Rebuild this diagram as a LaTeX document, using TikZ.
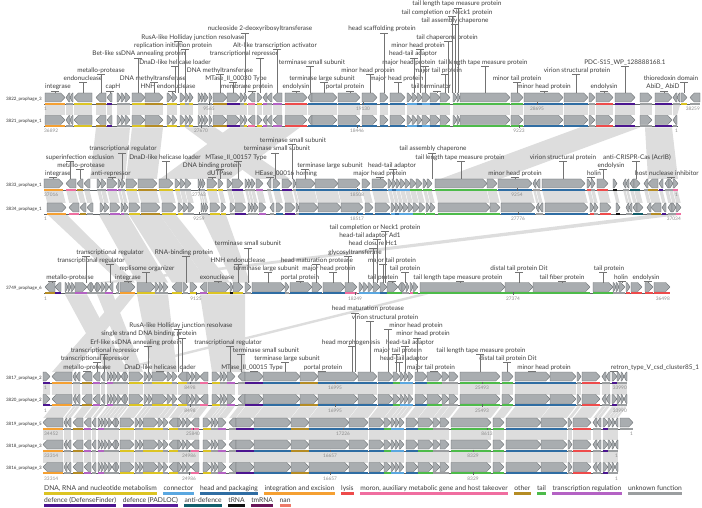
\documentclass[tikz,border=0pt]{standalone}
\usepackage{fontspec}
\setmainfont{Lato}
\usetikzlibrary{calc}
\definecolor{cY}{HTML}{DCC423}
\definecolor{cC}{HTML}{5AA7E0}
\definecolor{cH}{HTML}{2F6DA3}
\definecolor{cI}{HTML}{F5A032}
\definecolor{cL}{HTML}{EE4B4B}
\definecolor{cM}{HTML}{F06EA0}
\definecolor{cO}{HTML}{B58C24}
\definecolor{cT}{HTML}{4DBB4A}
\definecolor{cR}{HTML}{B462C4}
\definecolor{cU}{HTML}{9B9EA0}
\definecolor{cD}{HTML}{4B1590}
\definecolor{cP}{HTML}{5A1E9A}
\definecolor{cA}{HTML}{115E6B}
\definecolor{cN}{HTML}{111111}
\definecolor{cK}{HTML}{6A1558}
\definecolor{cZ}{HTML}{EE7A6A}
\definecolor{genefill}{HTML}{A9ADB0}
\definecolor{geneline}{HTML}{5E6265}
\definecolor{bandgray}{HTML}{DDDDDD}
\definecolor{labtext}{HTML}{3C3C3C}
\definecolor{numtext}{HTML}{8C8C8C}
\tikzset{
 gene/.style={fill=genefill,draw=geneline,line width=0.3pt,line join=round},
 band/.style={fill=bandgray},
 axisln/.style={draw=geneline,line width=0.4pt},
 lbl/.style={anchor=base,inner sep=0pt,text=labtext,font=\fontsize{6.4}{7}\selectfont},
 ldr/.style={draw=black!55,line width=0.35pt},
 numl/.style={anchor=base,inner sep=0pt,text=numtext,font=\fontsize{4.8}{5}\selectfont},
 tname/.style={anchor=east,inner sep=0pt,text=black!80,font=\fontsize{4.5}{5}\selectfont},
 leg/.style={anchor=base west,inner sep=0pt,text=labtext,font=\fontsize{6.7}{7}\selectfont},
}
% gene lists: start/end/direction/category
\def\TA{45/65/1/I, 66/70/-1/U, 70/73/-1/U, 74/92/-1/Y, 96/106/-1/O, 107/112/-1/D, 117/121/1/U, 121/125/1/U, 125/130/1/U, 132/145/1/Y, 145/163/1/O, 167/172/1/Y, 172/177/1/Y, 180/185/1/Y, 185/189/1/U, 189/193/1/Y, 198/201/1/U, 201/204/1/U, 204/208/1/U, 209/212/1/U, 213/227/1/O, 227/240/1/D, 240/244/1/U, 244/247/1/Y, 248/255/-1/M, 257/262/1/Y, 263/267/-1/R, 267/272/-1/U, 273/282/-1/R, 285/307/1/L, 308/312/-1/H, 312/337/1/H, 338/360/1/H, 362/377/1/H, 380/388/1/H, 390/405/1/H, 407/412/1/C, 412/417/1/C, 417/422/1/H, 422/430/1/C, 430/440/1/H, 440/450/1/T, 453/457/1/T, 457/460/1/T, 460/510/1/T, 511/523/1/T, 524/563/1/H, 564/588/1/H, 589/595/1/U, 596/613/1/L, 615/635/1/D, 640/652/1/U, 655/672/1/D}
\def\TAx{673/677/-1/U, 677/680/-1/U, 681/687/1/Y, 690/700/-1/U}
\def\TBx{673/677/-1/U}
\def\TC{44/63/1/I, 66/76/-1/M, 77/83/-1/O, 84/90/-1/U, 97/101/1/U, 101/106/1/U, 107/117/1/R, 118/121/1/R, 121/125/1/U, 126/137/1/Y, 138/157/1/O, 159/173/1/Y, 175/180/1/Y, 180/185/1/U, 185/191/1/U, 198/200/1/U, 200/202/1/U, 202/205/1/U, 207/217/1/Y, 218/223/1/Y, 227/232/1/U, 232/243/1/D, 245/248/1/U, 248/251/1/U, 251/255/1/U, 256/263/1/R, 267/271/-1/U, 273/280/1/H, 282/292/1/D, 293/296/1/U, 296/315/1/H, 315/338/1/H, 338/360/1/H, 362/370/1/H, 372/387/1/H, 388/392/1/C, 392/396/1/H, 396/400/1/C, 400/405/1/C, 405/410/1/C, 410/416/1/T, 416/422/1/T, 423/427/1/T, 427/432/1/T, 435/487/1/T, 487/497/1/T, 498/532/1/H, 533/536/-1/U, 536/540/-1/U, 542/585/1/H, 587/591/1/L, 591/595/1/U, 597/608/1/L, 613/617/1/N, 623/626/-1/U, 626/629/-1/U, 630/634/-1/A, 634/640/1/A, 644/648/-1/U, 648/658/-1/O, 659/663/-1/D, 665/669/-1/U, 669/673/1/U, 673/678/1/M}
\def\TE{45/55/-1/O, 55/61/-1/D, 65/68/1/U, 68/71/1/U, 71/75/1/U, 75/87/1/R, 87/91/-1/U, 91/94/1/U, 94/97/-1/U, 97/101/1/U, 101/105/1/U, 105/109/1/R, 109/113/-1/R, 116/119/-1/U, 120/135/1/I, 137/155/1/Y, 155/159/1/U, 159/163/1/U, 163/168/1/U, 172/182/-1/Y, 183/188/1/U, 190/197/1/Y, 200/207/-1/R, 208/230/1/Y, 230/233/1/N, 233/243/1/Y, 245/251/1/U, 252/285/1/H, 285/289/1/U, 290/312/1/H, 312/322/1/H, 323/345/1/H, 345/357/1/M, 359/363/1/C, 363/368/1/C, 368/373/1/C, 373/380/1/C, 380/387/1/H, 387/398/1/T, 398/402/-1/T, 402/406/1/U, 406/409/1/U, 410/413/1/M, 413/418/1/T, 420/505/1/T, 505/533/1/T, 533/590/1/T, 593/613/1/T, 613/616/1/U, 616/619/1/U, 619/625/1/U, 626/630/1/L, 631/642/1/L, 645/653/1/L, 654/670/1/L}
\def\TF{52/72/-1/I, 73/76/-1/U, 76/80/-1/U, 82/92/-1/O, 93/100/-1/R, 101/105/-1/U, 107/110/1/R, 110/113/1/R, 113/117/1/U, 117/121/1/U, 121/125/-1/U, 125/128/1/U, 129/143/1/Y, 144/148/1/U, 148/152/1/U, 152/167/1/Y, 167/172/1/Y, 172/177/1/U, 178/187/-1/Y, 187/191/1/U, 191/195/1/U, 195/200/1/U, 200/208/-1/M, 212/220/1/Y, 220/223/1/U, 223/227/1/U, 227/235/1/R, 238/245/-1/U, 245/263/1/D, 263/300/1/H, 300/318/1/O, 318/358/1/H, 358/377/1/H, 378/393/1/H, 393/400/1/T, 400/404/1/C, 404/408/1/C, 408/413/1/C, 415/427/1/H, 427/442/1/T, 442/449/1/U, 449/458/1/U, 460/500/1/T, 502/513/1/T, 515/550/1/H, 550/576/1/H, 577/581/1/U, 582/600/1/L, 602/606/-1/U, 606/610/-1/U, 612/617/1/D, 617/621/1/U, 621/624/1/U, 624/627/-1/U}
\def\TFx{43/50/1/D}
\def\THx{620/633/1/U}
% draw genes: yc, shift, list
\newcommand\drawgenes[3]{%
  \foreach \xa/\xb/\dr/\cl in #3 {%
    \pgfmathsetmacro\ga{\xa+#2}%
    \pgfmathsetmacro\gb{\xb+#2}%
    \pgfmathsetmacro\tp{min(4.2,0.75*(\xb-\xa))}%
    \fill[c\cl] (\ga,#1+5.2) rectangle (\gb,#1+7.4);
    \ifnum\dr>0
      \filldraw[gene] (\ga,#1-4.5) -- ({\gb-\tp},#1-4.5) -- (\gb,#1) -- ({\gb-\tp},#1+4.5) -- (\ga,#1+4.5) -- cycle;
    \else
      \filldraw[gene] (\gb,#1-4.5) -- ({\ga+\tp},#1-4.5) -- (\ga,#1) -- ({\ga+\tp},#1+4.5) -- (\gb,#1+4.5) -- cycle;
    \fi
  }}
% homology bands between aligned genes: ytop, ybottom, shift top, shift bottom, list
\newcommand\homol[5]{%
  \foreach \xa/\xb/\dr/\cl in #5 {%
    \fill[band] ({\xa+#3+0.3},#1) -- ({\xb+#3-0.3},#1) -- ({\xb+#4-0.3},#2) -- ({\xa+#4+0.3},#2) -- cycle;
  }}
% free band: xt1, xt2, xb1, xb2, ytop, ybottom
\newcommand\xband[6]{\fill[band] (#1,#5) -- (#2,#5) -- (#4,#6) -- (#3,#6) -- cycle;}
% labels: baseline row0, gene top, list k/cx/gx/text
\newcommand\labrow[3]{%
  \foreach \k/\cx/\gx/\tx in {#3} {%
    \pgfmathsetmacro\by{#1-8.3*\k}%
    \draw[ldr] ({\gx-4},\by+1.9) -- ({\gx+4},\by+1.9) (\gx,\by+1.9) -- (\gx,#2);
    \node[lbl] (lab-\cx-\k) at (\cx,\by) {\tx};
  }}
\newcommand\tck[2]{\draw[axisln] (#1,#2+5) -- (#1,#2+7.6);}
\begin{document}
\begin{tikzpicture}[x=1pt,y=-1pt]
\useasboundingbox (0,0) rectangle (702,508);
% ---------- homology bands ----------
\homol{105.2}{115.5}{0}{0}{\TA}
\xband{673}{680}{673}{677}{105.2}{115.5}
% 2 -> 3
\xband{96}{130}{90}{125}{127.4}{179}
\xband{132}{163}{126}{157}{127.4}{179}
\xband{185}{215}{255}{290}{127.4}{179}
\xband{230}{300}{160}{230}{127.4}{179}
\xband{580}{640}{440}{500}{127.4}{179}
\xband{645}{672}{648}{678}{127.4}{179}
\homol{190.9}{203}{0}{3}{\TC}
% 4 -> 5
\xband{48}{67}{120}{135}{214.9}{282.5}
\xband{99}{128}{137}{168}{214.9}{282.5}
\xband{129}{160}{172}{208}{214.9}{282.5}
\xband{160}{176}{208}{230}{214.9}{282.5}
\xband{201}{226}{233}{250}{214.9}{282.5}
\xband{650}{681}{97}{117}{214.9}{282.5}
% 5 -> 6
\xband{65}{87}{107}{128}{294.4}{372}
\xband{97}{113}{129}{143}{294.4}{372}
\xband{120}{135}{52}{72}{294.4}{372}
\xband{137}{168}{152}{177}{294.4}{372}
\xband{200}{245}{212}{245}{294.4}{372}
\xband{418}{428}{105}{115}{294.4}{372}
\homol{383.9}{394.5}{0}{0}{\TF}
\homol{383.9}{394.5}{0}{0}{\TFx}
\homol{406.4}{418}{0}{-9}{\TF}
\homol{429.9}{440}{-9}{-9}{\TF}
\homol{451.9}{462.5}{-9}{-9}{\TF}
% ---------- axes ----------
\draw[axisln] (44,103.8) -- (700,103.8);
\draw[axisln] (44,126.3) -- (678,126.3);
\draw[axisln] (44,189.8) -- (678,189.8);
\draw[axisln] (44,213.8) -- (681,213.8);
\draw[axisln] (44,293.3) -- (670,293.3);
\draw[axisln] (43,382.8) -- (627,382.8);
\draw[axisln] (43,405.3) -- (627,405.3);
\draw[axisln] (43,428.8) -- (633,428.8);
\draw[axisln] (43,450.8) -- (618,450.8);
\draw[axisln] (43,473.3) -- (618,473.3);
% ---------- genes ----------
\drawgenes{97.5}{0}{\TA}\drawgenes{97.5}{0}{\TAx}
\drawgenes{120}{0}{\TA}\drawgenes{120}{0}{\TBx}
\drawgenes{183.5}{0}{\TC}
\drawgenes{207.5}{3}{\TC}
\drawgenes{287}{0}{\TE}
\drawgenes{376.5}{0}{\TF}\drawgenes{376.5}{0}{\TFx}
\drawgenes{399}{0}{\TF}\drawgenes{399}{0}{\TFx}
\drawgenes{422.5}{-9}{\TF}\drawgenes{422.5}{0}{\THx}
\drawgenes{444.5}{-9}{\TF}
\drawgenes{467}{-9}{\TF}
% ---------- track names ----------
\node[tname] (t1) at (42,99) {3822\_prophage\_3};
\node[tname] (t2) at (42,121.5) {3821\_prophage\_1};
\node[tname] (t3) at (42,185) {3833\_prophage\_1};
\node[tname] (t4) at (42,209) {3834\_prophage\_1};
\node[tname] (t5) at (42,288.5) {3749\_prophage\_6};
\node[tname] (t6) at (42,378) {3817\_prophage\_2};
\node[tname] (t7) at (42,400.5) {3820\_prophage\_2};
\node[tname] (t8) at (42,424) {3819\_prophage\_5};
\node[tname] (t9) at (42,446) {3818\_prophage\_3};
\node[tname] (t10) at (42,468.5) {3816\_prophage\_3};
% ---------- coordinates ----------
\foreach \y/\e/\p/\q/\r/\s/\u/\v/\w/\z/\ex in {97.5/1/9565/209/19130/363/28695/537/38259/700/1,
 120/36892/27670/201/18446/357/9223/519/1/678/1,
 183.5/37016/27763/199/18508/357/9254/517/1/678/1,
 207.5/1/9259/199/18517/357/27776/518/37034/681/1,
 287/1/9125/196/18249/355/27374/513/36498/670/1,
 376.5/1/8498/190/16995/335/25493/482/33990/627/1,
 399/1/8498/190/16995/335/25493/482/33990/627/1,
 422.5/34452/25840/193/17226/343/8613/487/1/633/1,
 444.5/33314/24986/189/16657/330/8329/473/1/618/1,
 467/33314/24986/189/16657/330/8329/473/1/618/1}{%
  \node[numl,anchor=base west] (na-\y) at (44,\y+13) {\e};
  \node[numl] (nb-\y) at (\q,\y+13) {\p};\tck{\q}{\y}
  \node[numl] (nc-\y) at (\s,\y+13) {\r};\tck{\s}{\y}
  \node[numl] (nd-\y) at (\v,\y+13) {\u};\tck{\v}{\y}
  \node[numl,anchor=base east] (ne-\y) at (\z,\y+13) {\w};
}
% ---------- labels ----------
\labrow{89}{93}{0/58/55/integrase, 0/113/110/capH, 0/168/172/HNH endonuclease, 0/247/252/membrane protein, 0/296/296/endolysin, 0/345/350/portal protein, 0/431/437/tail terminator, 0/544/544/minor head protein, 0/604/604/endolysin, 0/663/664/AbiD\_ AbiD,
1/83/83/endonuclease, 1/153/154/DNA methyltransferase, 1/236/233/MTase\_II\_00030 Type, 1/322/324/terminase large subunit, 1/397/398/major head protein, 1/517/517/minor tail protein, 1/671/684/thioredoxin domain,
2/101/101/metallo-protease, 2/220/220/DNA methyltransferase, 2/368/370/minor head protein, 2/438/445/major tail protein, 2/577/576/virion structural protein,
3/175/175/DnaD-like helicase loader, 3/312/310/terminase small subunit, 3/409/425/major head protein, 3/483/485/tail length tape measure protein, 3/625/625/PDC-S15\_WP\_128888168.1,
4/139/138/Bet-like ssDNA annealing protein, 4/244/260/transcriptional repressor, 4/413/414/head-tail adaptor,
5/173/185/replication initiation protein, 5/275/277/Alt-like transcription activator, 5/418/420/minor head protein,
6/193/178/RusA-like Holliday junction resolvase, 6/447/448/tail chaperone protein,
7/260/245/nucleoside 2-deoxyribosyltransferase, 7/382/384/head scaffolding protein,
8/455/455/tail assembly chaperone, 9/447/452/tail completion or Neck1 protein, 10/457/458/tail length tape measure protein}
\labrow{175.7}{179}{0/58/53/integrase, 0/111/112/anti-repressor, 0/220/212/dUTPase, 0/286/270/HEase\_00016 homing, 0/380/380/major head protein, 0/515/515/minor head protein, 0/594/591/holin, 0/667/671/host nuclease inhibitor,
1/81/80/metallo-protease, 1/212/220/DNA binding protein, 1/330/305/terminase large subunit, 1/392/393/head-tail adaptor, 1/611/603/endolysin,
2/80/70/superinfection exclusion, 2/165/166/DnaD-like helicase loader, 2/236/238/MTase\_II\_00157 Type, 2/460/461/tail length tape measure protein, 2/563/563/virion structural protein, 2/637/636/{anti-CRISPR-Cas (AcrIB)},
3/123/122/transcriptional regulator, 3/277/275/terminase small subunit, 3/433/432/tail assembly chaperone,
4/293/292/terminase small subunit}
\labrow{279}{282.5}{0/70/52/metallo-protease, 0/128/128/integrase, 0/217/218/exonuclease, 0/300/300/portal protein, 0/383/392/tail protein, 0/458/460/tail length tape measure protein, 0/562/562/tail fiber protein, 0/621/622/holin, 0/646/648/endolysin,
1/147/146/replisome organizer, 1/266/268/terminase large subunit, 1/329/333/major head protein, 1/405/405/tail protein, 1/519/519/distal tail protein Dit, 1/609/603/tail protein,
2/91/110/transcriptional regulator, 2/238/238/HNH endonuclease, 2/317/316/head maturation protease, 2/392/383/major tail protein,
3/110/86/transcriptional regulator, 3/184/186/RNA-binding protein, 3/355/348/glycosyltransferase,
4/248/248/terminase small subunit, 4/373/373/head closure Hc1,
5/370/377/head-tail adaptor Ad1, 6/375/385/tail completion or Neck1 protein}
\labrow{369}{372}{0/87/87/metallo-protease, 0/160/160/DnaD-like helicase loader, 0/252/254/MTase\_II\_00015 Type, 0/323/322/portal protein, 0/431/434/major tail protein, 0/544/532/minor head protein, 0/655/614/retron\_type\_V\_csd\_cluster85\_1,
1/95/97/transcriptional repressor, 1/287/285/terminase large subunit, 1/404/399/head-tail adaptor, 1/508/507/distal tail protein Dit,
2/105/104/transcriptional repressor, 2/266/241/terminase small subunit, 2/398/396/major tail protein, 2/481/480/tail length tape measure protein,
3/136/148/Erf-like ssDNA annealing protein, 3/228/230/transcriptional regulator, 3/351/352/head morphogenesis, 3/410/405/head-tail adaptor,
4/149/182/single strand DNA binding protein, 4/423/417/minor head protein,
5/181/178/RusA-like Holliday junction resolvase, 5/416/388/minor head protein,
6/385/370/virion structural protein, 7/368/355/head maturation protease}
% ---------- legend ----------
\node[leg] (lg1) at (44,490.5) {DNA, RNA and nucleotide metabolism};
\node[leg] (lg2) at ($(lg1.base east)+(6.3,0)$) {connector};
\node[leg] (lg3) at ($(lg2.base east)+(6.3,0)$) {head and packaging};
\node[leg] (lg4) at ($(lg3.base east)+(6.3,0)$) {integration and excision};
\node[leg] (lg5) at ($(lg4.base east)+(6.3,0)$) {lysis};
\node[leg] (lg6) at ($(lg5.base east)+(6.3,0)$) {moron, auxiliary metabolic gene and host takeover};
\node[leg] (lg7) at ($(lg6.base east)+(6.3,0)$) {other};
\node[leg] (lg8) at ($(lg7.base east)+(6.3,0)$) {tail};
\node[leg] (lg9) at ($(lg8.base east)+(6.3,0)$) {transcription regulation};
\node[leg] (lg10) at ($(lg9.base east)+(6.3,0)$) {unknown function};
\node[leg] (lh1) at (44,502.5) {defence (DefenseFinder)};
\node[leg] (lh2) at ($(lh1.base east)+(6.3,0)$) {defence (PADLOC)};
\node[leg] (lh3) at ($(lh2.base east)+(6.3,0)$) {anti-defence};
\node[leg] (lh4) at ($(lh3.base east)+(6.3,0)$) {tRNA};
\node[leg] (lh5) at ($(lh4.base east)+(6.3,0)$) {tmRNA};
\node[leg] (lh6) at ($(lh5.base east)+(6.3,0)$) {nan};
\foreach \n/\c in {lg1/cY, lg2/cC, lg3/cH, lg4/cI, lg5/cL, lg6/cM, lg7/cO, lg8/cT, lg9/cR, lg10/cU, lh1/cD, lh2/cP, lh3/cA, lh4/cN, lh5/cK, lh6/cZ}
  \fill[\c] ($(\n.base west)+(0,1.9)$) rectangle ($(\n.base east)+(0,4.4)$);
\end{tikzpicture}
\end{document}
